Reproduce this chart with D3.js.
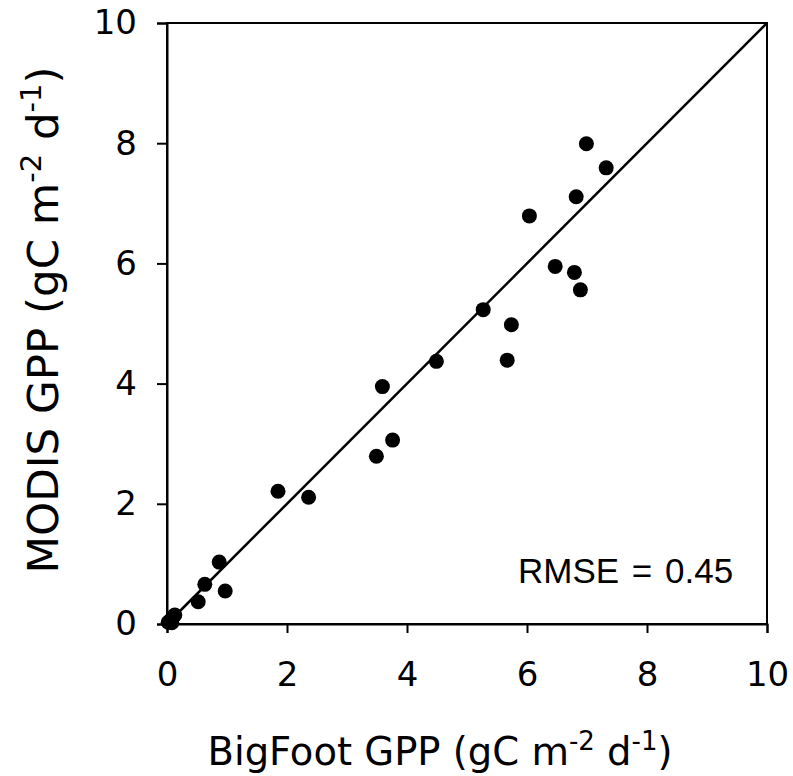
<!DOCTYPE html>
<html><head><meta charset="utf-8">
<script src="https://cdn.jsdelivr.net/npm/d3@7"></script>
<style>body{margin:0;background:#fff}svg{display:block}</style>
</head><body>
<script>
const bigfoot = [0.02,0.06,0.10,0.13,0.08,0.52,0.63,0.87,0.97,1.85,2.36,3.49,3.76,3.59,4.49,5.27,5.67,5.74,6.04,6.47,6.79,6.89,6.82,6.99,7.32];
const modis   = [0.03,0.06,0.12,0.15,0.02,0.37,0.66,1.03,0.55,2.21,2.11,2.79,3.06,3.95,4.37,5.23,4.39,4.98,6.79,5.95,5.85,5.56,7.11,7.99,7.59];
const ticks = [0,2,4,6,8,10];
const rmseLabel = "RMSE = 0.45";

const W=793,H=776;
const m={l:167,r:767,t:23,b:624};
const svg=d3.select("body").append("svg").attr("width",W).attr("height",H);
const x=d3.scaleLinear().domain([0,10]).range([m.l,m.r]);
const y=d3.scaleLinear().domain([0,10]).range([m.b,m.t]);
const font="DejaVu Sans, Verdana, sans-serif";

// frame
svg.append("rect").attr("x",m.l).attr("y",m.t).attr("width",m.r-m.l).attr("height",m.b-m.t)
  .attr("fill","none").attr("stroke","#000").attr("stroke-width",2);

const xa=svg.append("g").attr("transform",`translate(0,${m.b})`)
  .call(d3.axisBottom(x).tickValues(ticks).tickSize(9).tickPadding(29).tickFormat(d3.format("d")));
const ya=svg.append("g").attr("transform",`translate(${m.l},0)`)
  .call(d3.axisLeft(y).tickValues(ticks).tickSize(10).tickPadding(20).tickFormat(d3.format("d")));
[xa,ya].forEach(g=>{
  g.select(".domain").attr("stroke","#000").attr("stroke-width",2);
  g.selectAll(".tick line").attr("stroke","#000").attr("stroke-width",2);
  g.selectAll(".tick text").attr("fill","#000").style("font-family",font).style("font-size","34px");
});
xa.selectAll(".tick text").attr("dy","0.71em");

// 1:1 line
svg.append("line").attr("x1",x(0)).attr("y1",y(0)).attr("x2",x(10)).attr("y2",y(10))
  .attr("stroke","#000").attr("stroke-width",2.5);

// points
svg.append("g").selectAll("circle").data(bigfoot.map((v,i)=>[v,modis[i]])).join("circle")
  .attr("cx",d=>x(d[0])).attr("cy",d=>y(d[1])).attr("r",7.5).attr("fill","#000");

// RMSE
svg.append("text").attr("x",518).attr("y",583).attr("text-anchor","start")
  .style("font-family","Liberation Sans, Arial, sans-serif").style("font-size","35px")
  .style("word-spacing","3px").text(rmseLabel);

function title(t, xx, yy, rot, fs, ss, off){
  const tx=svg.append("text").attr("text-anchor","middle")
    .attr("transform",`translate(${xx},${yy}) rotate(${rot})`)
    .style("font-family",font).style("font-size",fs+"px").attr("fill","#000");
  tx.append("tspan").text(t+" (gC m");
  tx.append("tspan").attr("dy",-off).style("font-size",ss+"px").text("-2");
  tx.append("tspan").attr("dy",off).text(" d");
  tx.append("tspan").attr("dy",-off).style("font-size",ss+"px").text("-1");
  tx.append("tspan").attr("dy",off).text(")");
}
title("BigFoot GPP", 440, 765, 0, 38.5, 26, 15);
title("MODIS GPP", 58, 320, -90, 43.5, 29, 17);
</script>
</body></html>
